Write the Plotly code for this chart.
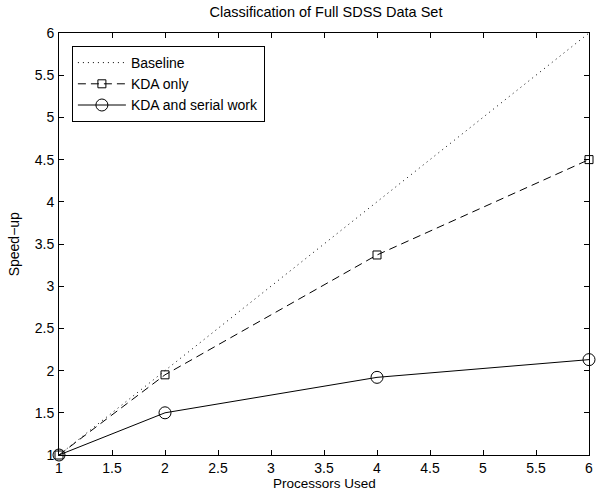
import plotly.graph_objects as go

processors = [1, 2, 4, 6]
baseline = [1, 2, 4, 6]
kda_only = [1, 1.95, 3.37, 4.5]
kda_serial = [1, 1.5, 1.92, 2.13]
tick_vals = [1, 1.5, 2, 2.5, 3, 3.5, 4, 4.5, 5, 5.5, 6]
tick_text = ["1", "1.5", "2", "2.5", "3", "3.5", "4", "4.5", "5", "5.5", "6"]

font = "Liberation Sans, Arial, Helvetica, sans-serif"
L, R, T, B = 59, 593, 33, 455
W, H = 599, 492

fig = go.Figure()
fig.add_trace(go.Scatter(x=processors, y=baseline, mode="lines", name="Baseline",
                         line=dict(color="black", width=1, dash="1px,4px"), cliponaxis=False))
fig.add_trace(go.Scatter(x=processors, y=kda_only, mode="lines+markers", name="KDA only",
                         line=dict(color="black", width=1, dash="8px,5px"), cliponaxis=False,
                         marker=dict(symbol="square-open", size=8, color="black", line=dict(width=1))))
fig.add_trace(go.Scatter(x=processors, y=kda_serial, mode="lines+markers", name="KDA and serial work",
                         line=dict(color="black", width=1), cliponaxis=False,
                         marker=dict(symbol="circle-open", size=12, color="black", line=dict(width=1))))

axis_common = dict(range=[1, 6], tickmode="array", tickvals=tick_vals, ticktext=tick_text,
                   ticks="inside", ticklen=5, tickcolor="black", showline=True, linecolor="black",
                   linewidth=1, mirror="ticks", showgrid=False, zeroline=False,
                   ticklabeloverflow="allow",
                   tickfont=dict(family=font, size=14, color="black"))

fig.update_layout(
    width=W, height=H,
    margin=dict(l=L, r=W - R, t=T, b=H - B),
    paper_bgcolor="white", plot_bgcolor="white",
    title=dict(text="Classification of Full SDSS Data Set", x=(L + R) / 2 / W, xanchor="center",
               y=1 - 12 / H, yanchor="middle", font=dict(family=font, size=14.5, color="black")),
    xaxis=dict(axis_common, ticklabelstandoff=0),
    yaxis=dict(axis_common, ticklabelstandoff=1),
    annotations=[
        dict(text="Processors Used", xref="paper", yref="paper", x=0.5, y=-(H - B) / (B - T),
             xanchor="center", yanchor="bottom", showarrow=False, borderpad=0,
             font=dict(family=font, size=13.5, color="black")),
        dict(text="Speed\u2212up", xref="paper", yref="paper", x=-(L - 14) / (R - L), y=0.5,
             xanchor="center", yanchor="middle", showarrow=False, textangle=-90,
             font=dict(family=font, size=14, color="black")),
    ],
    legend=dict(x=(72 - L) / (R - L), y=1 - (46 - T) / (B - T), xanchor="left", yanchor="top",
                bgcolor="white", bordercolor="black", borderwidth=1, tracegroupgap=0, itemwidth=48,
                font=dict(family=font, size=14, color="black")),
    showlegend=True,
)

fig.write_html("out.html", config={"displayModeBar": False},
               post_script="document.body.style.margin='0';")
